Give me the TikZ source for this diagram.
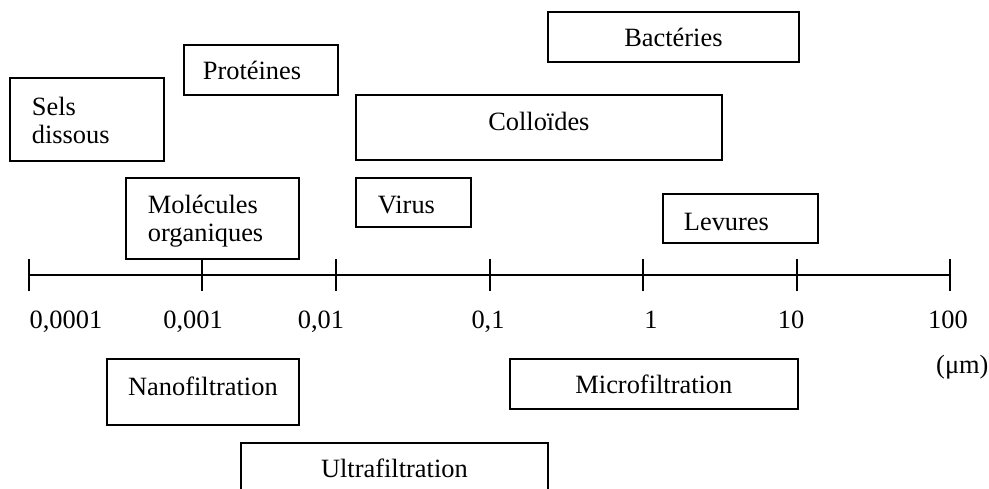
\documentclass[tikz,border=0pt]{standalone}
\usepackage{fontspec}
\setmainfont{Liberation Serif}
\usepackage{tikz}
\tikzstyle{boxl}=[rectangle, draw, anchor=north west, inner ysep=0pt, inner xsep=22pt, align=left]
\tikzstyle{boxc}=[rectangle, draw, anchor=north west, inner ysep=0pt, inner xsep=0pt, align=center]

\begin{document}
\begin{tikzpicture}[x=1pt,y=-1pt,line width=1.8pt,font=\fontsize{26.4}{28}\selectfont]
\useasboundingbox (0,0) rectangle (989,488);

%Particules
\node[boxl, text width=110pt, text height=38pt, text depth=45pt] (sels) at (9,77) {Sels\\dissous};
\node[boxl, inner xsep=19pt, text width=116pt, text height=35pt, text depth=15pt] (prot) at (183,44) {Protéines};
\node[boxl, text width=129pt, text height=36pt, text depth=45pt] (mol) at (125,177) {Molécules\\organiques};
\node[boxc, text width=251pt, text height=35pt, text depth=15pt] (bact) at (547,11) {Bactéries};
\node[boxc, text width=366pt, text height=36pt, text depth=29pt] (coll) at (355,94) {Colloïdes};
\node[boxl, text width=71pt, text height=36pt, text depth=13pt] (virus) at (355,177) {Virus};
\node[boxl, inner xsep=21pt, text width=113pt, text height=37pt, text depth=12pt] (lev) at (662,193) {Levures};

%Procedes
\node[boxc, text width=192pt, text height=37pt, text depth=29pt] (nano) at (106,358) {Nanofiltration};
\node[boxc, text width=288pt, text height=35pt, text depth=15pt] (micro) at (509,358) {Microfiltration};
\node[boxc, text width=307pt, text height=35pt, text depth=30pt] (ultra) at (240,442) {Ultrafiltration};

%Echelle
\foreach \x [count=\i] in {29,202,336,490,643,797,950}{
  \coordinate (t\i) at (\x,275);
  \draw (\x,259) -- (\x,291);
}
\draw (t1) -- (t7);
\foreach \x/\v [count=\i] in {66/{0,0001},193/{0,001},321/{0,01},488/{0,1},651/1,791/10,948/100}
  \node[anchor=base] (v\i) at (\x,328) {\v};
\node[anchor=base west] (unit) at (932,373) {(μm)};

\end{tikzpicture}
\end{document}
